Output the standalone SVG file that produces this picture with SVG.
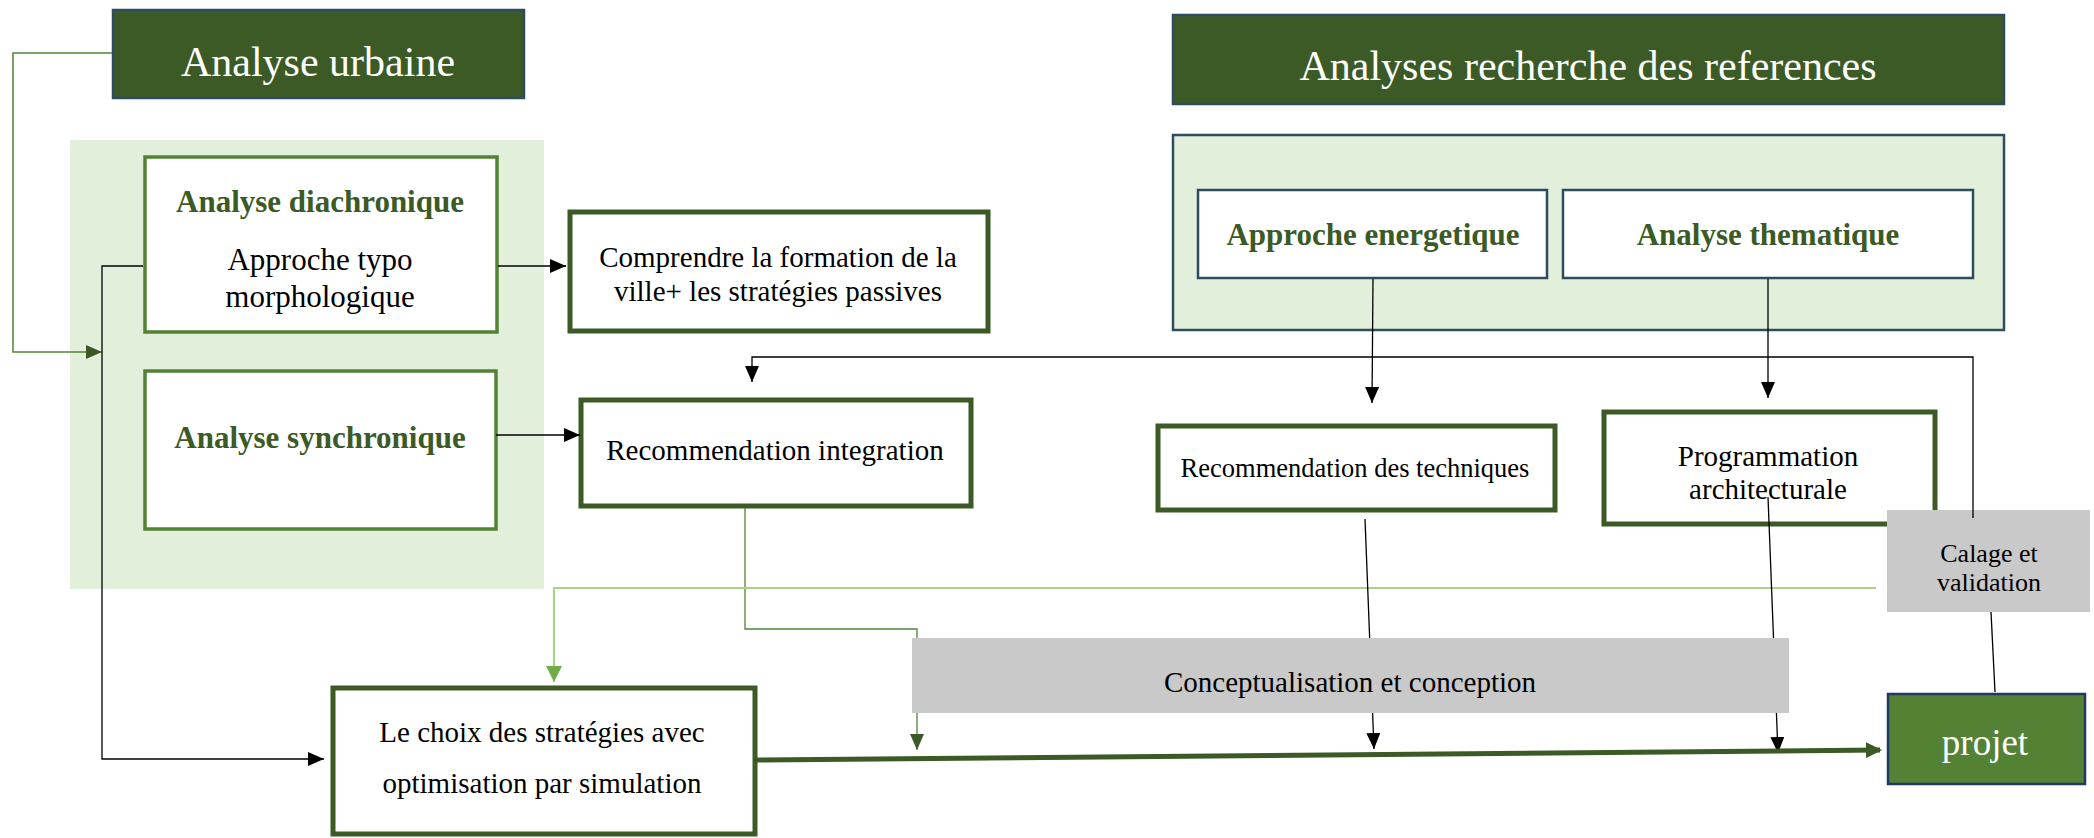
<svg xmlns="http://www.w3.org/2000/svg" width="2094" height="838" viewBox="0 0 2094 838">
<style>
text{font-family:"Liberation Serif","Times New Roman",serif;text-anchor:middle;fill:#000}
.title{font-size:42px;fill:#fff}
.bold{font-size:31px;font-weight:bold;fill:#3b5a25}
.t29{font-size:29px}
.dark{fill:#3b5a25;stroke:#2f4b5f;stroke-width:2.5}
.panel{fill:#e2efda}
.med{fill:#fff;stroke:#548235;stroke-width:3.5}
.thick{fill:#fff;stroke:#3b5a25;stroke-width:5}
.blue{fill:#fff;stroke:#2f4b5f;stroke-width:2.5}
.gray{fill:#c9c9c9}
.ln{fill:none;stroke:#000;stroke-width:1.3}
</style>
<defs>
<marker id="ab" markerUnits="userSpaceOnUse" markerWidth="16" markerHeight="14" refX="16" refY="7" orient="auto"><path d="M0,0 L16,7 L0,14 z" fill="#000"/></marker>
<marker id="ag" markerUnits="userSpaceOnUse" markerWidth="16" markerHeight="14" refX="16" refY="7" orient="auto"><path d="M0,0 L16,7 L0,14 z" fill="#3b5a25"/></marker>
<marker id="al" markerUnits="userSpaceOnUse" markerWidth="16" markerHeight="16" refX="16" refY="8" orient="auto"><path d="M0,0 L16,8 L0,16 z" fill="#70ad47"/></marker>
<marker id="am" markerUnits="userSpaceOnUse" markerWidth="16" markerHeight="16" refX="14" refY="8" orient="auto"><path d="M0,0 L16,8 L0,16 z" fill="#3b5a25"/></marker>
</defs>

<g id="panel-left"><rect class="panel" x="70" y="140" width="474" height="449"/></g>
<g id="panel-right"><rect class="panel" x="1173" y="135" width="831" height="195" stroke="#2f4b5f" stroke-width="2.5"/></g>

<g id="analyse-urbaine"><rect class="dark" x="113" y="10" width="411" height="88"/><text class="title" x="318" y="76">Analyse urbaine</text></g>
<g id="analyses-recherche"><rect class="dark" x="1173" y="15" width="831" height="89"/><text class="title" x="1588" y="80">Analyses recherche des references</text></g>

<g id="analyse-diachronique"><rect class="med" x="145" y="157" width="352" height="175"/>
<text class="bold" x="320" y="212">Analyse diachronique</text>
<text style="font-size:31px" x="320" y="270">Approche typo</text>
<text style="font-size:31px" x="320" y="307">morphologique</text></g>
<g id="analyse-synchronique"><rect class="med" x="145" y="371" width="351" height="158"/>
<text class="bold" x="320" y="448">Analyse synchronique</text></g>

<g id="comprendre"><rect class="thick" x="570" y="212" width="418" height="119"/>
<text class="t29" x="778" y="267">Comprendre la formation de la</text>
<text class="t29" x="778" y="301">ville+ les stratégies passives</text></g>
<g id="recommendation-integration"><rect class="thick" x="581" y="400" width="390" height="106"/>
<text class="t29" x="775" y="460">Recommendation integration</text></g>

<g id="approche-energetique"><rect class="blue" x="1198" y="190" width="349" height="88"/><text class="bold" x="1373" y="245">Approche energetique</text></g>
<g id="analyse-thematique"><rect class="blue" x="1563" y="190" width="410" height="88"/><text class="bold" x="1768" y="245">Analyse thematique</text></g>

<g id="recommendation-techniques"><rect class="thick" x="1158" y="426" width="397" height="84"/>
<text style="font-size:26.5px" x="1355" y="477">Recommendation des techniques</text></g>
<g id="programmation"><rect class="thick" x="1604" y="412" width="331" height="112"/>
<text class="t29" x="1768" y="466">Programmation</text>
<text class="t29" x="1768" y="499">architecturale</text></g>

<g id="calage"><rect class="gray" x="1887" y="510" width="203" height="102"/>
<text style="font-size:26px" x="1989" y="562">Calage et</text>
<text style="font-size:26px" x="1989" y="591">validation</text></g>

<g id="le-choix"><rect class="thick" x="333" y="688" width="422" height="146"/>
<text class="t29" x="542" y="742">Le choix des stratégies avec</text>
<text class="t29" x="542" y="793">optimisation par simulation</text></g>

<g id="projet"><rect x="1888" y="694" width="197" height="90" fill="#548235" stroke="#203864" stroke-width="2.5"/>
<text style="font-size:37px;fill:#fff" x="1985" y="755">projet</text></g>

<g id="connectors">
<path d="M112,53 H13 V352 H102" fill="none" stroke="#548235" stroke-width="1.5" marker-end="url(#ag)"/>
<path class="ln" d="M143,266 H102 V759 H324" stroke-width="1.6" marker-end="url(#ab)"/>
<path class="ln" d="M498,266 H566" marker-end="url(#ab)"/>
<path class="ln" d="M496,435 H580" marker-end="url(#ab)"/>
<path class="ln" d="M1973,518 V357 H752 V382" marker-end="url(#ab)"/>
<path class="ln" d="M1373,279 L1372,403" marker-end="url(#ab)"/>
<path class="ln" d="M1768,279 V398" marker-end="url(#ab)"/>
<path d="M745,508 V629 H917 V750" fill="none" stroke="#548235" stroke-width="1.3" marker-end="url(#ag)"/>
<path d="M1876,588 H554 V682" fill="none" stroke="#a9d18e" stroke-width="2.2" marker-end="url(#al)"/>
<path class="ln" d="M1365,519 L1374,749" marker-end="url(#ab)"/>
<path class="ln" d="M1768,497 L1778,753" marker-end="url(#ab)"/>
<path class="ln" d="M1991,612 L1995,692"/>
<path d="M757,760 L1880,750" fill="none" stroke="#3b5a25" stroke-width="5" marker-end="url(#am)"/>
</g>

<g id="conceptualisation"><rect class="gray" x="912" y="638" width="877" height="75"/>
<text class="t29" x="1350" y="692">Conceptualisation et conception</text></g>
</svg>
